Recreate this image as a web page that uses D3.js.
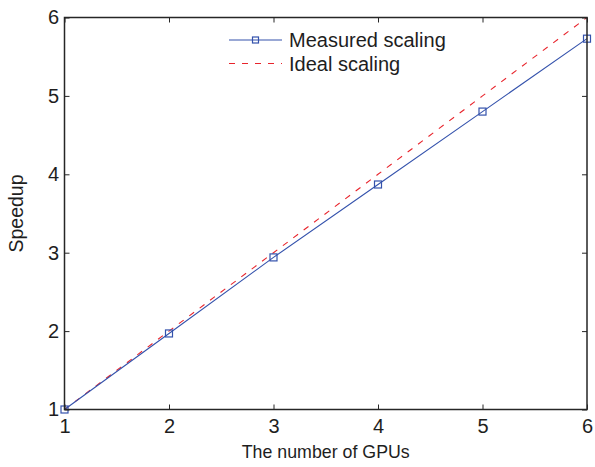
<!DOCTYPE html>
<html>
<head>
<meta charset="utf-8">
<script src="https://cdn.jsdelivr.net/npm/d3@7"></script>
<style>
body{margin:0;background:#fff;}
svg{display:block;font-family:"Liberation Sans",Arial,Helvetica,sans-serif;}
</style>
</head>
<body>
<svg id="chart" width="595" height="467"></svg>
<script>
const gpus = [1, 2, 3, 4, 5, 6];
const measured = [1.0, 1.97, 2.94, 3.87, 4.80, 5.73];
const ideal = [1, 2, 3, 4, 5, 6];
const xTicks = [1, 2, 3, 4, 5, 6];
const yTicks = [1, 2, 3, 4, 5, 6];
const seriesNames = ["Measured scaling", "Ideal scaling"];

const svg = d3.select("#chart");
const L = 64.5, R = 587, T = 17.5, B = 409.5;
const x = d3.scaleLinear().domain([1, 6]).range([L, R]);
const y = d3.scaleLinear().domain([1, 6]).range([B, T]);
const axisColor = "#262626";
const textColor = "#1e1e1e";
const blue = "#3452ac";
const red = "#e8242c";
const dash = "6,7";

// lines
const idealPts = gpus.map((g, i) => [g, ideal[i]]);
const measPts = gpus.map((g, i) => [g, measured[i]]);
const line = d3.line().x(d => x(d[0])).y(d => y(d[1]));

svg.append("path").attr("d", line(idealPts)).attr("fill", "none")
  .attr("stroke", red).attr("stroke-width", 1.1).attr("stroke-dasharray", dash);
svg.append("path").attr("d", line(measPts)).attr("fill", "none")
  .attr("stroke", blue).attr("stroke-width", 1.1);
svg.selectAll("rect.m").data(measPts).enter().append("rect").attr("class", "m")
  .attr("x", d => x(d[0]) - 3.5).attr("y", d => y(d[1]) - 3.5)
  .attr("width", 7).attr("height", 7)
  .attr("fill", "none").attr("stroke", blue).attr("stroke-width", 1.2);

// axes box
const tickLen = 5;
svg.append("rect").attr("x", L).attr("y", T).attr("width", R - L).attr("height", B - T)
  .attr("fill", "none").attr("stroke", axisColor).attr("stroke-width", 1.5);

const xAxis = d3.axisBottom(x).tickValues(xTicks).tickSizeInner(-tickLen).tickSizeOuter(0).tickPadding(9.5).tickFormat(d3.format("d"));
const gx = svg.append("g").attr("transform", `translate(0,${B})`).call(xAxis);
const xAxisTop = d3.axisTop(x).tickValues(xTicks).tickSizeInner(-tickLen).tickSizeOuter(0).tickFormat("");
const gxt = svg.append("g").attr("transform", `translate(0,${T})`).call(xAxisTop);
const yAxis = d3.axisLeft(y).tickValues(yTicks).tickSizeInner(-tickLen).tickSizeOuter(0).tickPadding(5.5).tickFormat(d3.format("d"));
const gy = svg.append("g").attr("transform", `translate(${L},0)`).call(yAxis);
const yAxisR = d3.axisRight(y).tickValues(yTicks).tickSizeInner(-tickLen).tickSizeOuter(0).tickFormat("");
const gyr = svg.append("g").attr("transform", `translate(${R},0)`).call(yAxisR);

[gx, gxt, gy, gyr].forEach(a => {
  a.select(".domain").remove();
  a.attr("font-size", 20).attr("font-family", "'Liberation Sans',Arial,sans-serif");
  a.selectAll(".tick line").attr("stroke", axisColor).attr("stroke-width", 1);
  a.selectAll(".tick text").attr("fill", textColor);
});
gx.selectAll(".tick text").attr("dy", "0.71em");

// axis titles
svg.append("text").attr("x", (L + R) / 2).attr("y", 458).attr("text-anchor", "middle")
  .attr("font-size", 17.8).attr("fill", textColor).text("The number of GPUs");
svg.append("text").attr("transform", `translate(22.5,${(T + B) / 2}) rotate(-90)`)
  .attr("text-anchor", "middle").attr("font-size", 19.5).attr("fill", textColor).text("Speedup");

// legend
const lg = svg.append("g");
const lx0 = 229, lx1 = 282, ly = [40, 63.5];
lg.append("line").attr("x1", lx0).attr("x2", lx1).attr("y1", ly[0]).attr("y2", ly[0])
  .attr("stroke", blue).attr("stroke-width", 1.1);
lg.append("rect").attr("x", (lx0 + lx1) / 2 - 3).attr("y", ly[0] - 3).attr("width", 6).attr("height", 6)
  .attr("fill", "none").attr("stroke", blue).attr("stroke-width", 1.2);
lg.append("line").attr("x1", lx0).attr("x2", lx1).attr("y1", ly[1]).attr("y2", ly[1])
  .attr("stroke", red).attr("stroke-width", 1.1).attr("stroke-dasharray", dash);
seriesNames.forEach((n, i) => {
  lg.append("text").attr("x", 289).attr("y", ly[i]).attr("dy", "0.35em")
    .attr("font-size", 20).attr("fill", textColor).text(n);
});
</script>
</body>
</html>
